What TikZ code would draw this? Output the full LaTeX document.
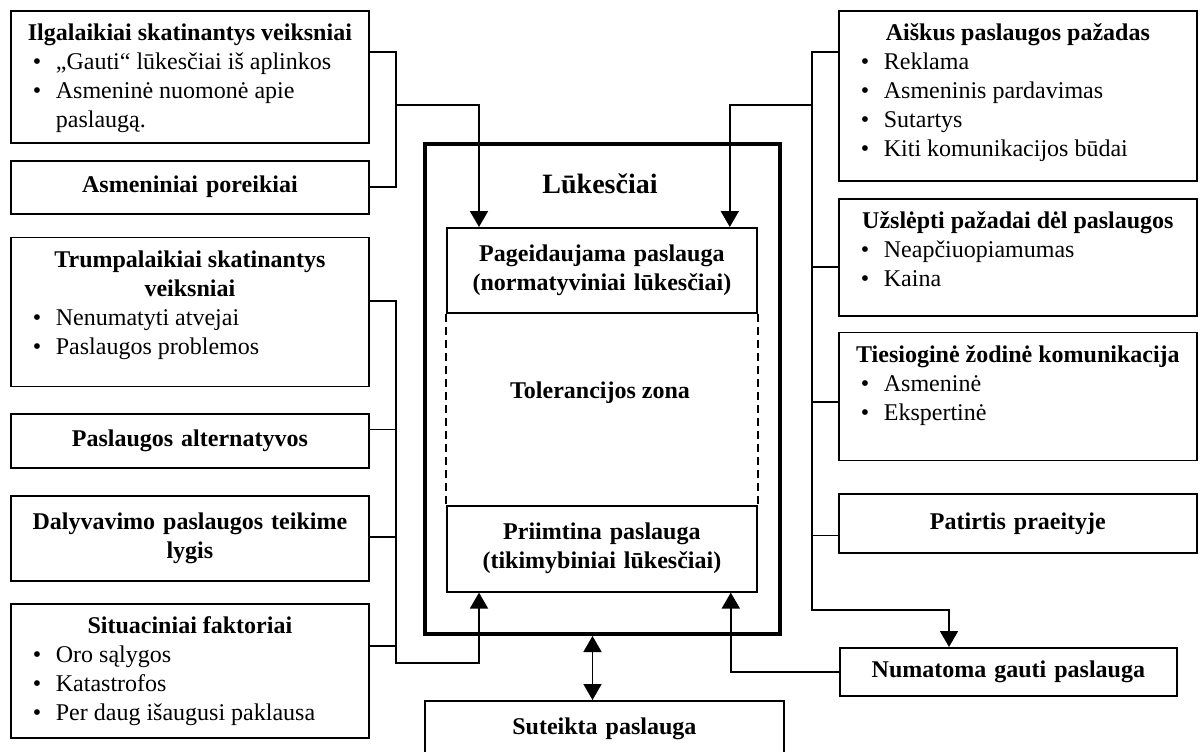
\documentclass[tikz,border=0pt]{standalone}
\usepackage{fontspec}
\setmainfont{Liberation Serif}
\usetikzlibrary{arrows.meta}
\usetikzlibrary{positioning}
\tikzset{every node/.style={font=\fontsize{12}{14.5}\selectfont}}
\tikzstyle{box} = [draw, line width=0.9pt, inner sep=0pt, text width=179pt, align=center, font=\fontsize{12}{14.5}\selectfont\bfseries]
\tikzstyle{lbox} = [draw, line width=0.9pt, inner sep=0pt]
\tikzstyle{ln} = [line width=0.9pt]
\tikzstyle{arr} = [ln, -{Triangle[width=9pt,length=8pt]}]
\newcommand{\boxlist}[3]{\parbox[c][#1][t]{179pt}{\centering\bfseries\rule{0pt}{15pt}#2\par\raggedright\mdseries#3}}
\newcommand{\bitem}[1]{\par\noindent\hangindent=22.5pt\hangafter=1\hspace*{11pt}\makebox[11.5pt][l]{\textbullet}#1}

\begin{document}
\begin{tikzpicture}[x=0.5pt, y=-0.5pt]
    \clip (0,0) rectangle (1200,751);
    % Left column
    \node[lbox, anchor=north west] (l1) at (10,10) {\boxlist{66pt}{Ilgalaikiai skatinantys veiksniai}{\bitem{„Gauti“ lūkesčiai iš aplinkos}\bitem{Asmeninė nuomonė apie\newline paslaugą.}}};
    \node[box, below=8pt of l1, minimum height=26.5pt] (l2) {Asmeniniai poreikiai};
    \node[lbox, below=11pt of l2] (l3) {\boxlist{74.5pt}{Trumpalaikiai skatinantys\\veiksniai}{\bitem{Nenumatyti atvejai}\bitem{Paslaugos problemos}}};
    \node[box, below=13pt of l3, minimum height=27pt] (l4) {Paslaugos alternatyvos};
    \node[box, below=13pt of l4, minimum height=42.5pt] (l5) {Dalyvavimo paslaugos teikime\\lygis};
    \node[lbox, below=10.5pt of l5] (l6) {\boxlist{67pt}{Situaciniai faktoriai}{\bitem{Oro sąlygos}\bitem{Katastrofos}\bitem{Per daug išaugusi paklausa}}};

    % Right column
    \node[lbox, anchor=north west] (r1) at (838,10) {\boxlist{85pt}{Aiškus paslaugos pažadas}{\bitem{Reklama}\bitem{Asmeninis pardavimas}\bitem{Sutartys}\bitem{Kiti komunikacijos būdai}}};
    \node[lbox, below=8pt of r1] (r2) {\boxlist{58.5pt}{Užslėpti pažadai dėl paslaugos}{\bitem{Neapčiuopiamumas}\bitem{Kaina}}};
    \node[lbox, below=7.5pt of r2] (r3) {\boxlist{64pt}{Tiesioginė žodinė komunikacija}{\bitem{Asmeninė}\bitem{Ekspertinė}}};
    \node[box, below=16pt of r3, minimum height=29.5pt] (r4) {Patirtis praeityje};

    % Expectations block
    \node[draw, line width=2pt, inner sep=0pt, minimum width=177.5pt, minimum height=245pt, anchor=north west] (luk) at (423,142) {};
    \node[anchor=base, font=\fontsize{14}{16}\selectfont\bfseries] (luktitle) at (600,193) {Lūkesčiai};
    \node[box, text width=155pt, minimum height=42.5pt, anchor=north west] (pag) at (446,227) {Pageidaujama paslauga\\(normatyviniai lūkesčiai)};
    \node[box, text width=155pt, minimum height=43pt, below=95.5pt of pag] (pri) {Priimtina paslauga\\(tikimybiniai lūkesčiai)};
    \node[anchor=base, font=\fontsize{12}{14.5}\selectfont\bfseries] (tol) at (600,398) {Tolerancijos zona};
    \draw[line width=0.7pt, dash pattern=on 4pt off 2.5pt] (pag.south west) -- (pri.north west);
    \draw[line width=0.7pt, dash pattern=on 4pt off 2.5pt] (pag.south east) -- (pri.north east);

    \node[box, text width=168.5pt, minimum height=24pt, anchor=north west] (num) at (839,647) {Numatoma gauti paslauga};
    \node[box, text width=179.5pt, minimum height=28pt, anchor=north west] (sut) at (424,700) {Suteikta paslauga};

    % Connectors
    \coordinate (lup) at (396,105);
    \coordinate (ldn) at (396,663);
    \coordinate (rup) at (812,105);
    \coordinate (rdn) at (812,610);

    \draw[ln] ([yshift=-21pt]l1.north east) -| (lup) |- (l2.east);
    \draw[arr] (lup) -| ([xshift=16.5pt]pag.north west);
    \draw[arr] ([yshift=-32pt]l3.north east) -| (ldn) -| ([xshift=16.5pt]pri.south west);
    \foreach \b/\s in {l4/8pt, l5/21pt, l6/21.5pt}
        \draw[ln] ([yshift=-\s]\b.north east) -| (ldn);

    \draw[arr] ([yshift=-21pt]r1.north west) -| (rdn) -| ([xshift=55pt]num.north west);
    \foreach \b/\s in {r2/34.5pt, r3/35pt, r4/21pt}
        \draw[ln] ([yshift=-\s]\b.north west) -| (rdn);
    \draw[arr] (rup) -| ([xshift=-14pt]pag.north east);
    \draw[arr] (num.west) -| ([xshift=-13.5pt]pri.south east);
    \draw[ln, {Triangle[width=9pt,length=8pt]}-{Triangle[width=9pt,length=8pt]}] ([xshift=-5pt]luk.south) -- ([xshift=-5pt]luk.south |- sut.north);
\end{tikzpicture}
\end{document}
